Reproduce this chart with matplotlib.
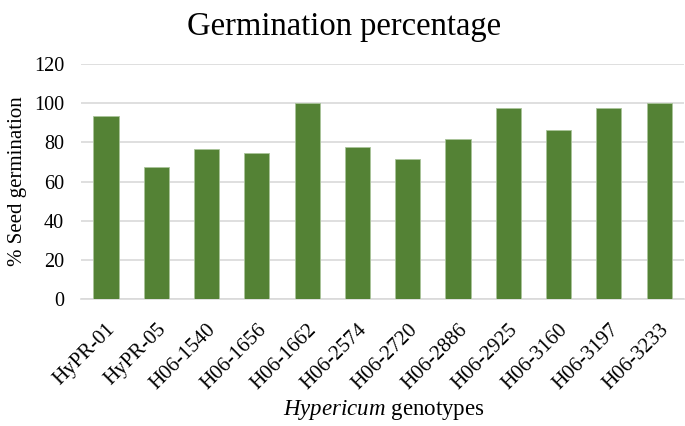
import matplotlib
matplotlib.use("Agg")
import matplotlib.pyplot as plt
import numpy as np

plt.rcParams['font.family'] = ['Liberation Serif', 'DejaVu Serif']
plt.rcParams['mathtext.fontset'] = 'custom'
plt.rcParams['mathtext.rm'] = 'Liberation Serif'
plt.rcParams['mathtext.it'] = 'Liberation Serif:italic'

genotypes = ['HyPR-01', 'HyPR-05', 'H06-1540', 'H06-1656', 'H06-1662', 'H06-2574',
             'H06-2720', 'H06-2886', 'H06-2925', 'H06-3160', 'H06-3197', 'H06-3233']
germination = [93.5, 67.5, 76.5, 74.5, 100, 77.5, 71.5, 82, 97.5, 86.5, 97.5, 100]
yticks = [0, 20, 40, 60, 80, 100, 120]


def main():
    fig = plt.figure(figsize=(6.85, 4.26), dpi=100)
    ax = fig.add_axes([0.118, 0.2974, 0.881, 0.5524])

    x = np.arange(len(genotypes))
    ax.bar(x, germination, width=0.5, color='#548235', edgecolor='#a9c49a',
           linewidth=0.6, zorder=3)

    ax.set_xlim(-0.5, len(genotypes) - 0.5)
    ax.set_ylim(0, 120)
    ax.set_yticks(yticks)
    ax.set_yticklabels([str(v) for v in yticks], fontsize=14.5)
    ax.set_xticks(x)
    ax.set_xticklabels(genotypes, rotation=45, ha='right', rotation_mode='anchor',
                       fontsize=15)
    ax.tick_params(axis='y', length=0, pad=12)
    ax.tick_params(axis='x', length=0, pad=15)

    ax.grid(axis='y', color='#d9d9d9', linewidth=1.2, zorder=0)
    for s in ['top', 'right', 'left']:
        ax.spines[s].set_visible(False)
    ax.spines['bottom'].set_color('#d9d9d9')
    ax.spines['bottom'].set_linewidth(1.2)

    # y label placed by hand so it sits where the original has it
    fig.text(0.026, 0.574, '% Seed germination', fontsize=15, rotation=90,
             ha='center', va='center')
    fig.text(0.56, 0.025, r'$\mathit{Hypericum}$ genotypes', fontsize=16.5, ha='center')
    fig.text(0.502, 0.918, 'Germination percentage', fontsize=23.5, ha='center')

    fig.savefig('out.png', dpi=100)


if __name__ == "__main__":
    main()
